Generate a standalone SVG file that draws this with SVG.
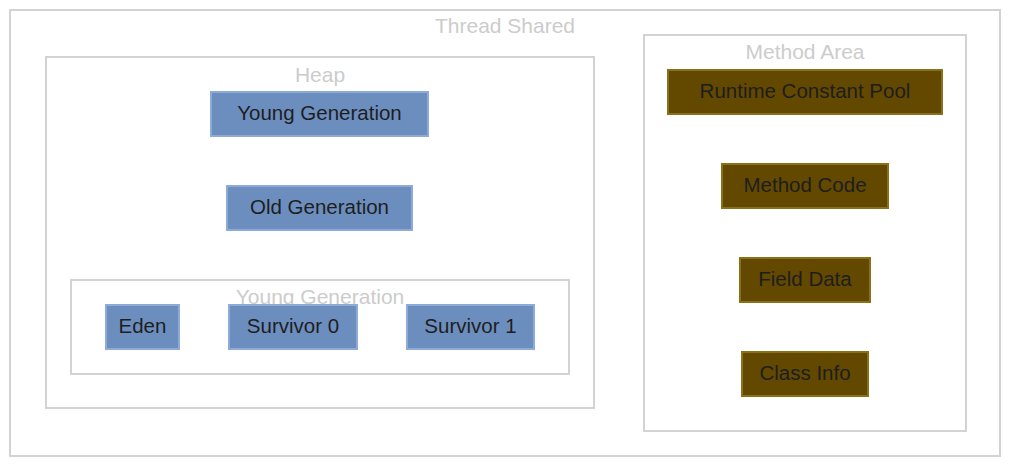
<svg xmlns="http://www.w3.org/2000/svg" width="1010" height="466" viewBox="0 0 1010 466">
<style>
.cont{fill:none;stroke:#d3d3d3;stroke-width:2}
.clabel{font-family:"Liberation Sans",Arial,sans-serif;font-size:21px;fill:#cccccc;text-anchor:middle}
.blue{fill:#6c8ebf;stroke:#8eaad6;stroke-width:2}
.brown{fill:#634800;stroke:#8c7018;stroke-width:2}
.t{font-family:"Liberation Sans",Arial,sans-serif;font-size:20.5px;fill:#1e1e1e;text-anchor:middle}
</style>
<rect width="1010" height="466" fill="#ffffff"/>
<g id="thread-shared">
<rect class="cont" x="10" y="10" width="990" height="446"/>
<text class="clabel" x="505" y="33">Thread Shared</text>
</g>
<g id="heap">
<rect class="cont" x="46" y="57" width="548" height="351"/>
<text class="clabel" x="320" y="82">Heap</text>
</g>
<g id="young-gen-container">
<rect class="cont" x="71" y="280" width="498" height="94"/>
<text class="clabel" x="320" y="304">Young Generation</text>
</g>
<g id="method-area">
<rect class="cont" x="644" y="35" width="322" height="396"/>
<text class="clabel" x="805" y="59">Method Area</text>
</g>
<g id="young-generation">
<rect class="blue" x="211" y="92" width="217" height="44"/>
<text class="t" x="319.5" y="120">Young Generation</text>
</g>
<g id="old-generation">
<rect class="blue" x="227" y="186" width="185" height="44"/>
<text class="t" x="319.5" y="214">Old Generation</text>
</g>
<g id="eden">
<rect class="blue" x="106" y="305" width="73" height="44"/>
<text class="t" x="142.5" y="333">Eden</text>
</g>
<g id="survivor0">
<rect class="blue" x="229" y="305" width="128" height="44"/>
<text class="t" x="293" y="333">Survivor 0</text>
</g>
<g id="survivor1">
<rect class="blue" x="407" y="305" width="127" height="44"/>
<text class="t" x="470.5" y="333">Survivor 1</text>
</g>
<g id="runtime-constant-pool">
<rect class="brown" x="668" y="70" width="274" height="44"/>
<text class="t" x="805" y="98">Runtime Constant Pool</text>
</g>
<g id="method-code">
<rect class="brown" x="722" y="164" width="166" height="44"/>
<text class="t" x="805" y="192">Method Code</text>
</g>
<g id="field-data">
<rect class="brown" x="740" y="258" width="130" height="44"/>
<text class="t" x="805" y="286">Field Data</text>
</g>
<g id="class-info">
<rect class="brown" x="742" y="352" width="126" height="44"/>
<text class="t" x="805" y="380">Class Info</text>
</g>
<g id="connectors"></g>
</svg>
